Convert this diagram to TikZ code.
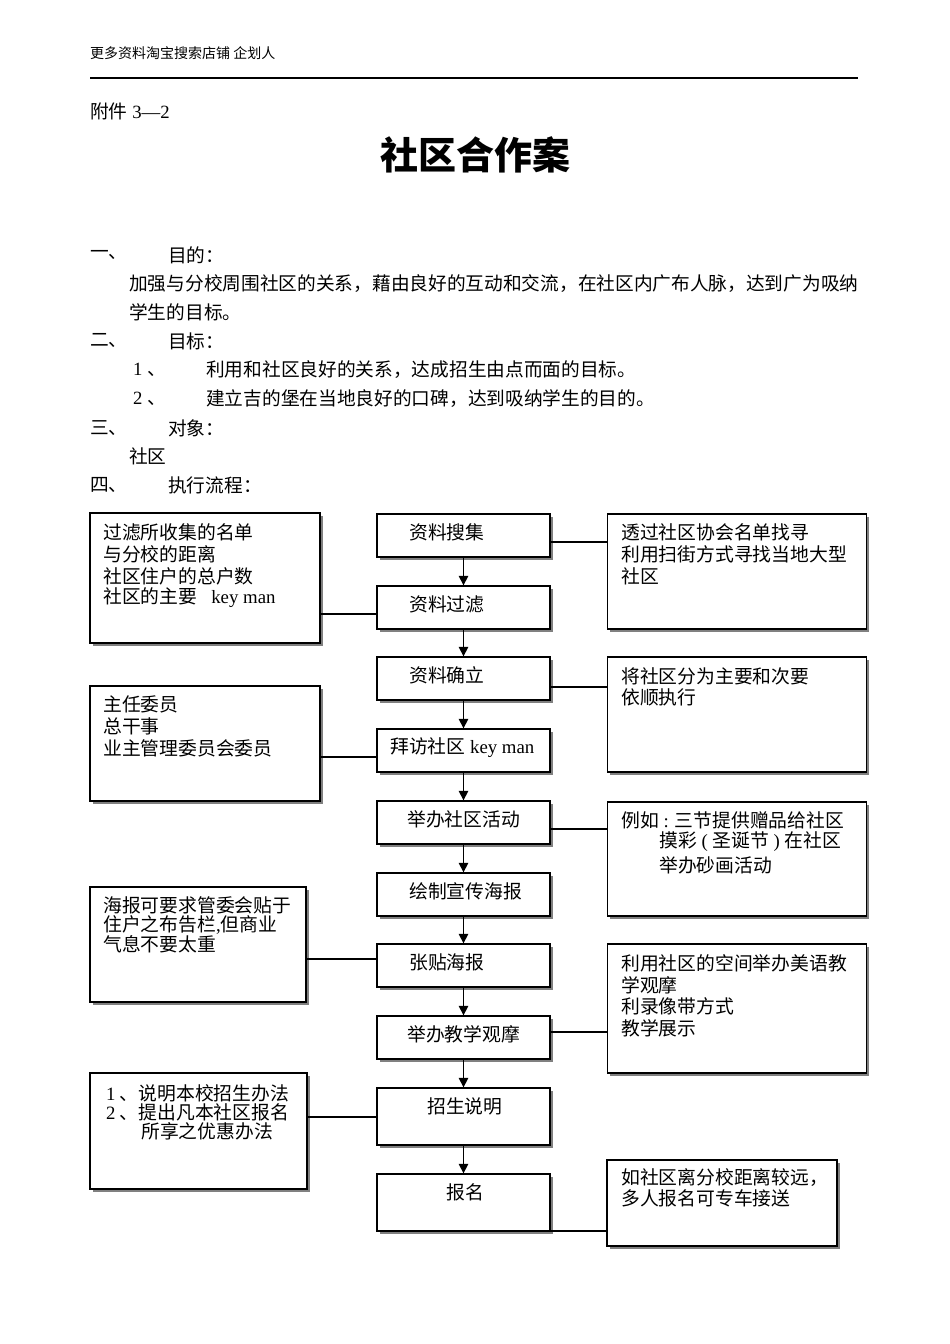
\documentclass[tikz,border=0pt]{standalone}
\usepackage{fontspec}
\setmainfont{Liberation Serif}
\newfontfamily\cjk{Noto Sans CJK SC}
\usetikzlibrary{arrows.meta,shadows}
\newcommand\latn[1]{{\rmfamily #1}}
\begin{document}
\begin{tikzpicture}[x=1pt,y=-1pt,
  txt/.style={inner sep=0pt,anchor=west,font=\cjk\fontsize{18.7}{22}\selectfont},
  btxt/.style={inner sep=0pt,anchor=west,font=\cjk\fontsize{18.8}{22}\selectfont},
  hdr/.style={inner sep=0pt,anchor=west,font=\cjk\fontsize{14}{16}\selectfont},
  ttl/.style={inner sep=0pt,font=\cjk\bfseries\fontsize{38}{42}\selectfont},
  box/.style={draw=black,line width=1.3pt,fill=white,inner sep=0pt,
    drop shadow={shadow xshift=2.5pt,shadow yshift=-2.5pt,fill=black!50,opacity=1}},
  conn/.style={line width=1.2pt,draw=black},
  arr/.style={conn,-{Triangle[length=9.5pt,width=9.5pt]}}]
\useasboundingbox (0,0) rectangle (950,1344);
\fill[white] (0,0) rectangle (950,1344);

% header
\node[hdr] (hd) at (90,53) {更多资料淘宝搜索店铺 企划人};
\coordinate (rl) at (90,78);
\coordinate (rr) at (858,78);
\draw[line width=1.4pt] (rl) -- (rr);
\node[txt] (att) at (90,111) {附件\latn{ 3—2}};
\node[ttl] (title) at (475,155) {社区合作案};

% body text
\node[txt] (s1) at (90,255) {一、};
\node[txt] (s1t) at (168,255) {目的：};
\node[txt] (p1) at (129,284) {加强与分校周围社区的关系，藉由良好的互动和交流，在社区内广布人脉，达到广为吸纳};
\node[txt] (p2) at (129,312) {学生的目标。};
\node[txt] (s2) at (90,341) {二、};
\node[txt] (s2t) at (168,341) {目标：};
\node[txt] (n1) at (133,370) {\latn{1 }、};
\node[txt] (n1t) at (206,370) {利用和社区良好的关系，达成招生由点而面的目标。};
\node[txt] (n2) at (133,399) {\latn{2 }、};
\node[txt] (n2t) at (206,399) {建立吉的堡在当地良好的口碑，达到吸纳学生的目的。};
\node[txt] (s3) at (90,428) {三、};
\node[txt] (s3t) at (168,428) {对象：};
\node[txt] (p3) at (129,456) {社区};
\node[txt] (s4) at (90,485) {四、};
\node[txt] (s4t) at (168,485) {执行流程：};

% centre column boxes
\node[box,minimum width=173,minimum height=43] (c1) at (463.5,535.5) {};
\node[box,minimum width=173,minimum height=43] (c2) at (463.5,607.5) {};
\node[box,minimum width=173,minimum height=43] (c3) at (463.5,678.5) {};
\node[box,minimum width=173,minimum height=43] (c4) at (463.5,750.5) {};
\node[box,minimum width=173,minimum height=43] (c5) at (463.5,822.5) {};
\node[box,minimum width=173,minimum height=43] (c6) at (463.5,894.5) {};
\node[box,minimum width=173,minimum height=43] (c7) at (463.5,965.5) {};
\node[box,minimum width=173,minimum height=43] (c8) at (463.5,1037.5) {};
\node[box,minimum width=173,minimum height=57] (c9) at (463.5,1116.5) {};
\node[box,minimum width=173,minimum height=57] (c10) at (463.5,1202.5) {};

\node[btxt] (c1t) at (409,532) {资料搜集};
\node[btxt] (c2t) at (409,604) {资料过滤};
\node[btxt] (c3t) at (409,675) {资料确立};
\node[btxt] (c4t) at (390,748) {拜访社区\latn{ key man}};
\node[btxt] (c5t) at (407,819) {举办社区活动};
\node[btxt] (c6t) at (409,891) {绘制宣传海报};
\node[btxt] (c7t) at (409,962) {张贴海报};
\node[btxt] (c8t) at (407,1034) {举办教学观摩};
\node[btxt] (c9t) at (427,1106) {招生说明};
\node[btxt] (c10t) at (446,1192) {报名};

% left boxes
\node[box,minimum width=230,minimum height=130] (l1) at (205,578) {};
\node[box,minimum width=230,minimum height=115] (l2) at (205,743.5) {};
\node[box,minimum width=216,minimum height=115] (l3) at (198,944.5) {};
\node[box,minimum width=217,minimum height=116] (l4) at (198.5,1131) {};

\node[btxt] (l1a) at (103,532) {过滤所收集的名单};
\node[btxt] (l1b) at (103,554) {与分校的距离};
\node[btxt] (l1c) at (103,576) {社区住户的总户数};
\node[btxt] (l1d) at (103,598) {社区的主要\latn{ \ \ key man}};
\node[btxt] (l2a) at (103,704) {主任委员};
\node[btxt] (l2b) at (103,726) {总干事};
\node[btxt] (l2c) at (103,748) {业主管理委员会委员};
\node[btxt] (l3a) at (103,905) {海报可要求管委会贴于};
\node[btxt] (l3b) at (103,925) {住户之布告栏\latn{,}但商业};
\node[btxt] (l3c) at (103,944) {气息不要太重};
\node[btxt] (l4a) at (106,1093) {\latn{1} 、说明本校招生办法};
\node[btxt] (l4b) at (106,1112) {\latn{2} 、提出凡本社区报名};
\node[btxt] (l4c) at (141,1131) {所享之优惠办法};

% right boxes
\node[box,minimum width=259,minimum height=115] (r1) at (737,571.5) {};
\node[box,minimum width=259,minimum height=115] (r2) at (737,714.5) {};
\node[box,minimum width=259,minimum height=114] (r3) at (737,859) {};
\node[box,minimum width=259,minimum height=129] (r4) at (737,1008.5) {};
\node[box,minimum width=230,minimum height=86] (r5) at (722,1203) {};

\node[btxt] (r1a) at (621,532) {透过社区协会名单找寻};
\node[btxt] (r1b) at (621,554) {利用扫街方式寻找当地大型};
\node[btxt] (r1c) at (621,576) {社区};
\node[btxt] (r2a) at (621,676) {将社区分为主要和次要};
\node[btxt] (r2b) at (621,697) {依顺执行};
\node[btxt] (r3a) at (621,820) {例如\latn{ : }三节提供赠品给社区};
\node[btxt] (r3b) at (659,842) {摸彩\latn{ ( }圣诞节\latn{ ) }在社区};
\node[btxt] (r3c) at (659,865) {举办砂画活动};
\node[btxt] (r4a) at (621,963) {利用社区的空间举办美语教};
\node[btxt] (r4b) at (621,985) {学观摩};
\node[btxt] (r4c) at (621,1006) {利录像带方式};
\node[btxt] (r4d) at (621,1028) {教学展示};
\node[btxt] (r5a) at (621,1178) {如社区离分校距离较远，};
\node[btxt] (r5b) at (621,1198) {多人报名可专车接送};

% arrows down the centre column
\draw[arr] (c1) -- (c2);
\draw[arr] (c2) -- (c3);
\draw[arr] (c3) -- (c4);
\draw[arr] (c4) -- (c5);
\draw[arr] (c5) -- (c6);
\draw[arr] (c6) -- (c7);
\draw[arr] (c7) -- (c8);
\draw[arr] (c8) -- (c9);
\draw[arr] (c9) -- (c10);

% side connectors
\coordinate (yl1) at (0,614);
\coordinate (yl2) at (0,757);
\coordinate (yl3) at (0,959);
\coordinate (yl4) at (0,1117);
\coordinate (yr1) at (0,542);
\coordinate (yr2) at (0,687);
\coordinate (yr3) at (0,829);
\coordinate (yr4) at (0,1032);
\coordinate (yr5) at (0,1231);
\draw[conn] (l1.east |- yl1) -- (c2.west |- yl1);
\draw[conn] (l2.east |- yl2) -- (c4.west |- yl2);
\draw[conn] (l3.east |- yl3) -- (c7.west |- yl3);
\draw[conn] (l4.east |- yl4) -- (c9.west |- yl4);
\draw[conn] (c1.east |- yr1) -- (r1.west |- yr1);
\draw[conn] (c3.east |- yr2) -- (r2.west |- yr2);
\draw[conn] (c5.east |- yr3) -- (r3.west |- yr3);
\draw[conn] (c8.east |- yr4) -- (r4.west |- yr4);
\draw[conn] (c10.east |- yr5) -- (r5.west |- yr5);
\end{tikzpicture}
\end{document}
